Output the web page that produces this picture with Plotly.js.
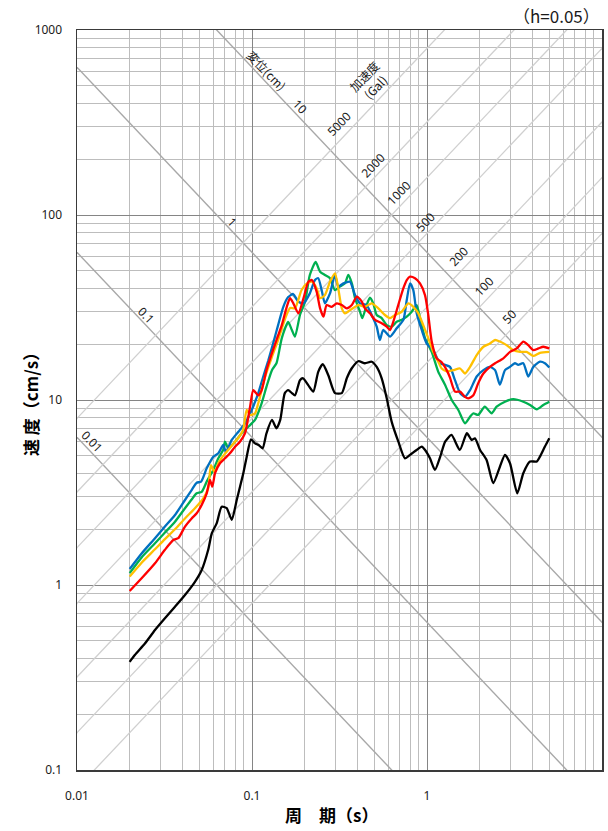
<!DOCTYPE html>
<html>
<head>
<meta charset="utf-8">
<script src="https://cdn.plot.ly/plotly-3.0.1.min.js"></script>
<style>
html,body{margin:0;padding:0;background:#fff;}
#chart{width:608px;height:831px;}
</style>
</head>
<body>
<div id="chart"></div>
<script>
// ---- tick labels ----
const xTickVals = [0.01, 0.1, 1, 10];
const xTickText = ['0.01', '0.1', '1', '10'];
const yTickVals = [0.1, 1, 10, 100, 1000];
const yTickText = ['0.1', '1', '10', '100', '1000'];

// ---- tripartite guide values ----
const dispValues = [0.01, 0.1, 1, 10];                 // 変位 (cm)
const dispLabels = ['0.01', '0.1', '1', '10'];
const accValues = [50, 100, 200, 500, 1000, 2000, 5000]; // 加速度 (Gal)
const accLabels = ['50', '100', '200', '500', '1000', '2000', '5000'];

// ---- spectra: period (s) / velocity (cm/s) ----
const blueT = [0.02,0.0234,0.0279,0.0318,0.0363,0.0414,0.0452,0.0483,0.0512,0.0551,0.0601,0.0642,0.0685,0.071,0.0766,0.0836,0.0912,0.0996,0.1086,0.116,0.124,0.132,0.141,0.151,0.161,0.172,0.184,0.197,0.214,0.229,0.239,0.25,0.261,0.279,0.298,0.311,0.333,0.363,0.388,0.414,0.452,0.483,0.516,0.538,0.562,0.615,0.671,0.733,0.766,0.8,0.835,0.873,0.933,0.996,1.086,1.186,1.267,1.353,1.445,1.545,1.648,1.762,1.923,2.1,2.29,2.45,2.61,2.79,2.98,3.18,3.32,3.55,3.79,4.05,4.42,4.72,5.0];
const blueV = [1.22,1.48,1.79,2.07,2.39,2.88,3.26,3.57,3.62,4.27,4.94,5.15,5.71,5.24,6.08,6.74,7.48,8.83,10.9,13.4,16.4,20.2,25.4,31.9,36.0,37.4,34.0,33.3,37.7,44.5,45.5,39.3,33.3,37.7,47.4,41.0,42.7,43.6,36.9,33.3,32.6,28.8,24.9,21.1,23.9,22.0,24.4,27.1,34.7,42.7,39.3,29.4,23.9,20.2,18.6,15.8,15.5,15.1,12.8,10.9,10.4,11.3,13.4,14.5,15.1,14.5,12.1,14.5,15.1,15.8,15.5,15.8,13.4,15.1,16.1,15.8,15.0];

const greenT = [0.02,0.0234,0.0279,0.0318,0.0363,0.0414,0.0452,0.0483,0.0516,0.0551,0.0601,0.0642,0.0685,0.0701,0.0732,0.08,0.0873,0.0953,0.104,0.1135,0.121,0.13,0.138,0.148,0.161,0.169,0.176,0.188,0.201,0.214,0.231,0.245,0.261,0.279,0.298,0.318,0.34,0.355,0.372,0.388,0.414,0.427,0.452,0.472,0.493,0.516,0.551,0.589,0.628,0.671,0.717,0.766,0.818,0.873,0.912,0.974,1.064,1.16,1.267,1.384,1.51,1.648,1.762,1.84,1.96,2.14,2.34,2.5,2.79,3.11,3.55,3.88,4.24,4.62,5.0];
const greenV = [1.16,1.41,1.68,1.92,2.2,2.6,2.9,3.13,3.19,3.62,4.19,4.84,5.37,5.95,5.48,5.95,6.61,7.17,7.8,9.6,11.8,14.5,15.8,21.6,26.4,23.9,22.0,28.8,34.0,47.4,55.7,49.4,47.4,45.5,39.3,41.0,42.7,47.4,42.7,35.5,30.0,27.7,32.6,35.7,33.3,28.8,27.7,25.4,24.9,26.5,27.1,28.2,30.0,32.6,27.7,21.6,18.2,14.2,12.1,10.0,8.83,7.48,8.12,8.47,8.3,9.2,8.47,9.2,9.79,10.1,9.79,9.4,8.91,9.4,9.79];

const yellowT = [0.02,0.0234,0.0279,0.0318,0.0363,0.0414,0.0472,0.0527,0.0562,0.0583,0.0611,0.0647,0.0692,0.0739,0.0789,0.0843,0.0889,0.0933,0.0975,0.104,0.1086,0.119,0.13,0.141,0.155,0.165,0.176,0.192,0.206,0.22,0.234,0.245,0.261,0.279,0.298,0.311,0.326,0.34,0.363,0.405,0.442,0.483,0.527,0.575,0.615,0.656,0.717,0.782,0.835,0.892,0.952,1.017,1.086,1.16,1.213,1.296,1.413,1.545,1.648,1.762,1.923,2.1,2.29,2.45,2.61,2.85,3.11,3.4,3.71,4.05,4.42,5.0];
const yellowV = [1.11,1.32,1.56,1.77,2.0,2.29,2.6,2.94,3.34,4.45,4.08,4.62,5.05,5.43,5.86,6.31,6.88,8.83,8.3,8.47,9.6,13.4,17.1,21.1,27.7,31.4,31.3,39.3,42.7,43.6,40.2,35.5,36.9,43.6,48.4,40.2,31.3,29.4,30.6,32.6,31.9,33.3,31.3,28.8,27.7,28.8,30.0,33.3,31.9,29.4,25.4,21.6,18.2,16.1,14.8,14.3,14.5,14.8,13.9,15.1,17.5,19.4,20.2,21.1,20.7,19.8,18.6,18.2,18.2,17.3,18.0,18.2];

const redT = [0.02,0.0234,0.0279,0.0318,0.0355,0.0379,0.0414,0.0452,0.0483,0.0516,0.0551,0.0575,0.0593,0.0615,0.0656,0.0701,0.0748,0.08,0.0853,0.0912,0.0975,0.1017,0.1086,0.1135,0.121,0.13,0.138,0.148,0.158,0.165,0.172,0.184,0.197,0.21,0.22,0.234,0.245,0.256,0.267,0.285,0.305,0.326,0.348,0.372,0.397,0.424,0.442,0.472,0.505,0.551,0.589,0.615,0.642,0.685,0.733,0.766,0.8,0.854,0.912,0.974,1.017,1.064,1.136,1.213,1.296,1.353,1.445,1.545,1.648,1.72,1.84,1.96,2.1,2.29,2.45,2.73,2.98,3.26,3.55,3.79,4.05,4.33,4.62,5.0];
const redV = [0.928,1.087,1.31,1.55,1.75,1.79,2.07,2.29,2.44,2.71,3.13,3.7,3.4,4.02,4.55,4.84,5.15,5.59,5.95,6.61,9.2,11.3,10.6,11.3,14.5,17.9,21.1,25.4,31.9,35.5,33.4,29.4,35.5,43.6,44.5,38.5,31.3,28.2,32.6,31.9,33.3,32.6,31.3,32.6,36.2,34.0,31.3,29.4,27.1,26.0,24.9,23.9,26.5,32.6,40.2,44.5,46.4,45.5,42.7,36.9,28.8,20.7,16.8,16.0,14.5,13.2,11.1,11.1,10.4,10.2,10.6,12.3,13.9,15.1,15.8,16.8,18.2,19.0,20.7,19.8,18.6,19.0,19.4,19.0];

const blackT = [0.02,0.0214,0.0245,0.0279,0.0318,0.0363,0.0414,0.0472,0.0516,0.0562,0.0589,0.0629,0.0671,0.0717,0.0766,0.0818,0.0854,0.0892,0.0933,0.0987,0.104,0.109,0.115,0.121,0.13,0.138,0.145,0.154,0.161,0.169,0.176,0.188,0.196,0.21,0.224,0.239,0.254,0.273,0.298,0.326,0.348,0.371,0.405,0.442,0.483,0.516,0.551,0.589,0.628,0.686,0.748,0.8,0.873,0.933,0.975,1.04,1.11,1.19,1.27,1.38,1.54,1.69,1.8,1.88,2.01,2.19,2.39,2.61,2.79,2.98,3.28,3.55,3.88,4.24,4.42,4.72,5.0];
const blackV = [0.384,0.418,0.484,0.571,0.661,0.763,0.883,1.04,1.205,1.55,1.9,2.16,2.65,2.6,2.25,2.88,3.4,4.02,4.94,6.13,5.83,5.71,5.48,6.61,7.8,7.03,7.8,10.9,11.3,10.9,10.6,12.8,13.1,12.0,11.1,14.2,15.6,13.6,10.9,10.9,13.1,14.8,16.2,15.8,16.1,15.1,13.1,10.2,7.64,5.95,4.84,5.05,5.37,5.6,5.37,4.84,4.19,4.94,5.95,6.47,5.37,6.61,6.08,6.21,5.37,4.74,3.55,4.36,5.05,4.55,3.13,4.02,4.65,4.65,4.94,5.6,6.21];

// ---- styling ----
const TWO_PI = 2 * Math.PI;
const lineEnds = [0.001, 100];
const traces = [];

// displacement guide lines: V = 2πD / T
dispValues.forEach(d => {
  traces.push({x: lineEnds, y: lineEnds.map(t => TWO_PI * d / t), mode: 'lines',
    line: {color: '#a8a8a8', width: 1.4}, hoverinfo: 'skip', showlegend: false});
});
// acceleration guide lines: V = A T / 2π
accValues.forEach(a => {
  traces.push({x: lineEnds, y: lineEnds.map(t => a * t / TWO_PI), mode: 'lines',
    line: {color: '#d0d0d0', width: 1.3}, hoverinfo: 'skip', showlegend: false});
});

const series = [
  {t: blackT, v: blackV, c: '#000000'},
  {t: greenT, v: greenV, c: '#00B050'},
  {t: blueT, v: blueV, c: '#0070C0'},
  {t: yellowT, v: yellowV, c: '#FFC000'},
  {t: redT, v: redV, c: '#FF0000'}
];
series.forEach(s => {
  traces.push({x: s.t, y: s.v, mode: 'lines',
    line: {color: s.c, width: 2.3, shape: 'spline', smoothing: 0.6},
    hoverinfo: 'skip', showlegend: false});
});

function minorVals(lo, hi) {
  const out = [];
  for (let e = lo; e < hi; e++) for (let k = 2; k <= 9; k++) out.push(k * Math.pow(10, e));
  return out;
}

const cjk = 'Noto Sans CJK JP, sans-serif';
const labFont = {family: 'Noto Sans, Noto Sans CJK JP, sans-serif', size: 12, color: '#1a1a1a'};
const ANG = 46;
// label positions (log10 T, log10 V)
const dispPos = [[-1.914, 0.775], [-1.602, 1.459], [-1.109, 1.962], [-0.726, 2.585]];
const accPos = [[0.470, 1.454], [0.326, 1.612], [0.179, 1.778], [-0.006, 1.964], [-0.158, 2.121], [-0.310, 2.270], [-0.501, 2.496]];

const annotations = [];
dispLabels.forEach((t, i) => annotations.push({x: dispPos[i][0], y: dispPos[i][1], xref: 'x', yref: 'y',
  text: t, showarrow: false, textangle: ANG, font: labFont}));
accLabels.forEach((t, i) => annotations.push({x: accPos[i][0], y: accPos[i][1], xref: 'x', yref: 'y',
  text: t, showarrow: false, textangle: -ANG, font: labFont}));
annotations.push({x: -0.920, y: 2.784, xref: 'x', yref: 'y', text: '変位(cm)', showarrow: false,
  textangle: ANG, font: {family: cjk, size: 12, color: '#1a1a1a'}});
annotations.push({x: -0.326, y: 2.719, xref: 'x', yref: 'y', text: '加速度<br>(Gal)', showarrow: false,
  textangle: -ANG, font: {family: cjk, size: 12, color: '#1a1a1a'}});
annotations.push({x: 1, y: 1, xref: 'paper', yref: 'paper', xanchor: 'right', yanchor: 'bottom', yshift: 0,
  text: '（h=0.05）', showarrow: false, font: {family: cjk, size: 17, color: '#1a1a1a'}});
// axis titles
annotations.push({x: 0.484, y: -0.0608, xref: 'paper', yref: 'paper', xanchor: 'center', yanchor: 'middle',
  text: '<b>周　期（s）</b>', showarrow: false, font: {family: cjk, size: 17, color: '#000'}});
annotations.push({x: -0.0895, y: 0.5, xref: 'paper', yref: 'paper', xanchor: 'center', yanchor: 'middle',
  text: '<b>速 度（cm/s）</b>', textangle: -90, showarrow: false, font: {family: cjk, size: 17, color: '#000'}});

const axisCommon = {
  type: 'log', showline: true, mirror: true, linecolor: '#3a3a3a', linewidth: 1.5,
  showgrid: true, gridcolor: '#858585', gridwidth: 1, zeroline: false,
  tickmode: 'array', ticks: 'outside', tickcolor: 'rgba(0,0,0,0)',
  tickfont: {family: 'Noto Sans, sans-serif', size: 12, color: '#1a1a1a'},
  fixedrange: true
};

const layout = {
  width: 608, height: 831,
  margin: {l: 77, r: 6, t: 30, b: 61},
  paper_bgcolor: '#ffffff', plot_bgcolor: '#ffffff',
  showlegend: false,
  xaxis: Object.assign({}, axisCommon, {
    range: [-2, 1], tickvals: xTickVals, ticktext: xTickText, ticklen: 14,
    minor: {tickmode: 'array', tickvals: minorVals(-2, 1), showgrid: true, gridcolor: '#bdbdbd', gridwidth: 1, ticks: ''}
  }),
  yaxis: Object.assign({}, axisCommon, {
    range: [-1, 3], tickvals: yTickVals, ticktext: yTickText, ticklen: 11,
    minor: {tickmode: 'array', tickvals: minorVals(-1, 3), showgrid: true, gridcolor: '#bdbdbd', gridwidth: 1, ticks: ''}
  }),
  annotations: annotations
};

Plotly.newPlot('chart', traces, layout, {displayModeBar: false, staticPlot: true});
</script>
</body>
</html>
